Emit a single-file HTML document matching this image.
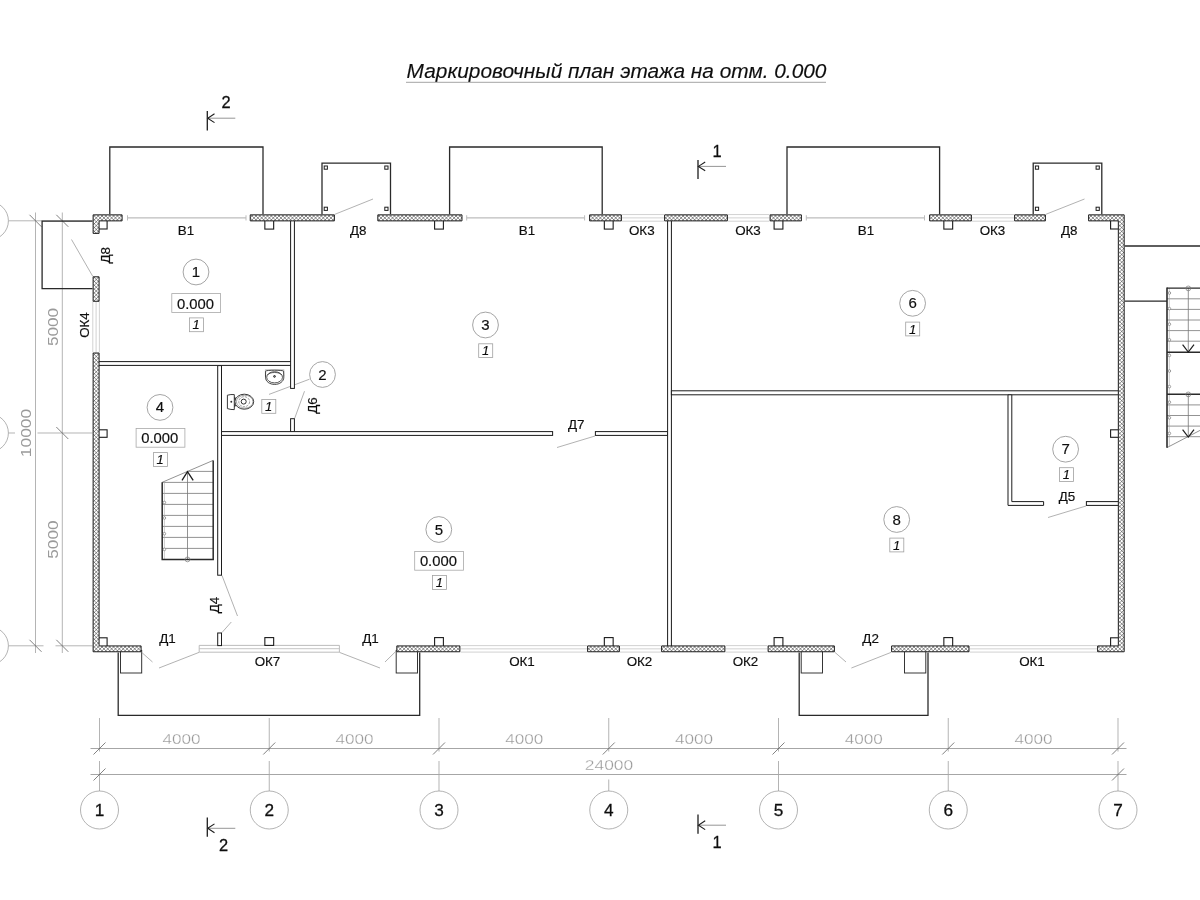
<!DOCTYPE html>
<html lang="ru">
<head>
<meta charset="utf-8">
<title>Маркировочный план этажа на отм. 0.000</title>
<style>
html,body{margin:0;padding:0;background:#fff;}
body{width:1200px;height:900px;overflow:hidden;}
svg{display:block;font-family:"Liberation Sans",sans-serif;}
</style>
</head>
<body>
<svg width="1200" height="900" viewBox="0 0 1200 900">
<defs>
<filter id="bl" x="0" y="0" width="1200" height="900" filterUnits="userSpaceOnUse"><feGaussianBlur stdDeviation="0.4"/></filter>
<filter id="bw" x="0" y="0" width="1200" height="900" filterUnits="userSpaceOnUse"><feGaussianBlur stdDeviation="0.25"/></filter>
</defs>
<rect width="1200" height="900" fill="#fff"/>
<g filter="url(#bl)">
<line x1="90.50" y1="748.50" x2="1126.50" y2="748.50" stroke="#9c9c9c" stroke-width="0.9" />
<line x1="90.50" y1="774.50" x2="1126.50" y2="774.50" stroke="#9c9c9c" stroke-width="0.9" />
<line x1="99.50" y1="718.00" x2="99.50" y2="751.50" stroke="#a6a6a6" stroke-width="0.85" />
<line x1="99.50" y1="761.00" x2="99.50" y2="791.00" stroke="#a6a6a6" stroke-width="0.85" />
<line x1="93.50" y1="754.50" x2="105.50" y2="742.50" stroke="#5a5a5a" stroke-width="0.75" />
<line x1="93.50" y1="780.50" x2="105.50" y2="768.50" stroke="#5a5a5a" stroke-width="0.75" />
<circle cx="99.50" cy="810" r="19" fill="#fff" stroke="#9a9a9a" stroke-width="0.75"/>
<text x="99.50" y="816.20" font-size="17.2" fill="#111" stroke="#111" stroke-width="0.3" text-anchor="middle"  >1</text>
<line x1="269.25" y1="718.00" x2="269.25" y2="751.50" stroke="#a6a6a6" stroke-width="0.85" />
<line x1="269.25" y1="761.00" x2="269.25" y2="791.00" stroke="#a6a6a6" stroke-width="0.85" />
<line x1="263.25" y1="754.50" x2="275.25" y2="742.50" stroke="#5a5a5a" stroke-width="0.75" />
<circle cx="269.25" cy="810" r="19" fill="#fff" stroke="#9a9a9a" stroke-width="0.75"/>
<text x="269.25" y="816.20" font-size="17.2" fill="#111" stroke="#111" stroke-width="0.3" text-anchor="middle"  >2</text>
<line x1="439.00" y1="718.00" x2="439.00" y2="751.50" stroke="#a6a6a6" stroke-width="0.85" />
<line x1="439.00" y1="761.00" x2="439.00" y2="791.00" stroke="#a6a6a6" stroke-width="0.85" />
<line x1="433.00" y1="754.50" x2="445.00" y2="742.50" stroke="#5a5a5a" stroke-width="0.75" />
<circle cx="439.00" cy="810" r="19" fill="#fff" stroke="#9a9a9a" stroke-width="0.75"/>
<text x="439.00" y="816.20" font-size="17.2" fill="#111" stroke="#111" stroke-width="0.3" text-anchor="middle"  >3</text>
<line x1="608.75" y1="718.00" x2="608.75" y2="751.50" stroke="#a6a6a6" stroke-width="0.85" />
<line x1="608.75" y1="779.50" x2="608.75" y2="791.00" stroke="#a6a6a6" stroke-width="0.85" />
<line x1="602.75" y1="754.50" x2="614.75" y2="742.50" stroke="#5a5a5a" stroke-width="0.75" />
<circle cx="608.75" cy="810" r="19" fill="#fff" stroke="#9a9a9a" stroke-width="0.75"/>
<text x="608.75" y="816.20" font-size="17.2" fill="#111" stroke="#111" stroke-width="0.3" text-anchor="middle"  >4</text>
<line x1="778.50" y1="718.00" x2="778.50" y2="751.50" stroke="#a6a6a6" stroke-width="0.85" />
<line x1="778.50" y1="761.00" x2="778.50" y2="791.00" stroke="#a6a6a6" stroke-width="0.85" />
<line x1="772.50" y1="754.50" x2="784.50" y2="742.50" stroke="#5a5a5a" stroke-width="0.75" />
<circle cx="778.50" cy="810" r="19" fill="#fff" stroke="#9a9a9a" stroke-width="0.75"/>
<text x="778.50" y="816.20" font-size="17.2" fill="#111" stroke="#111" stroke-width="0.3" text-anchor="middle"  >5</text>
<line x1="948.25" y1="718.00" x2="948.25" y2="751.50" stroke="#a6a6a6" stroke-width="0.85" />
<line x1="948.25" y1="761.00" x2="948.25" y2="791.00" stroke="#a6a6a6" stroke-width="0.85" />
<line x1="942.25" y1="754.50" x2="954.25" y2="742.50" stroke="#5a5a5a" stroke-width="0.75" />
<circle cx="948.25" cy="810" r="19" fill="#fff" stroke="#9a9a9a" stroke-width="0.75"/>
<text x="948.25" y="816.20" font-size="17.2" fill="#111" stroke="#111" stroke-width="0.3" text-anchor="middle"  >6</text>
<line x1="1118.00" y1="718.00" x2="1118.00" y2="751.50" stroke="#a6a6a6" stroke-width="0.85" />
<line x1="1118.00" y1="761.00" x2="1118.00" y2="791.00" stroke="#a6a6a6" stroke-width="0.85" />
<line x1="1112.00" y1="754.50" x2="1124.00" y2="742.50" stroke="#5a5a5a" stroke-width="0.75" />
<line x1="1112.00" y1="780.50" x2="1124.00" y2="768.50" stroke="#5a5a5a" stroke-width="0.75" />
<circle cx="1118.00" cy="810" r="19" fill="#fff" stroke="#9a9a9a" stroke-width="0.75"/>
<text x="1118.00" y="816.20" font-size="17.2" fill="#111" stroke="#111" stroke-width="0.3" text-anchor="middle"  >7</text>
<text x="181.57" y="744.30" font-size="14.6" fill="#9a9a9a" stroke="#fff" stroke-width="0.3" text-anchor="middle"  textLength="38.2" lengthAdjust="spacingAndGlyphs">4000</text>
<text x="354.52" y="744.30" font-size="14.6" fill="#9a9a9a" stroke="#fff" stroke-width="0.3" text-anchor="middle"  textLength="38.2" lengthAdjust="spacingAndGlyphs">4000</text>
<text x="524.27" y="744.30" font-size="14.6" fill="#9a9a9a" stroke="#fff" stroke-width="0.3" text-anchor="middle"  textLength="38.2" lengthAdjust="spacingAndGlyphs">4000</text>
<text x="694.02" y="744.30" font-size="14.6" fill="#9a9a9a" stroke="#fff" stroke-width="0.3" text-anchor="middle"  textLength="38.2" lengthAdjust="spacingAndGlyphs">4000</text>
<text x="863.77" y="744.30" font-size="14.6" fill="#9a9a9a" stroke="#fff" stroke-width="0.3" text-anchor="middle"  textLength="38.2" lengthAdjust="spacingAndGlyphs">4000</text>
<text x="1033.53" y="744.30" font-size="14.6" fill="#9a9a9a" stroke="#fff" stroke-width="0.3" text-anchor="middle"  textLength="38.2" lengthAdjust="spacingAndGlyphs">4000</text>
<text x="609.00" y="770.30" font-size="14.6" fill="#9a9a9a" stroke="#fff" stroke-width="0.3" text-anchor="middle"  textLength="48.5" lengthAdjust="spacingAndGlyphs">24000</text>
<line x1="35.50" y1="212.50" x2="35.50" y2="653.00" stroke="#a6a6a6" stroke-width="0.85" />
<line x1="62.30" y1="212.50" x2="62.30" y2="653.00" stroke="#a6a6a6" stroke-width="0.85" />
<line x1="8.40" y1="220.80" x2="92.50" y2="220.80" stroke="#a6a6a6" stroke-width="0.85" />
<line x1="8.40" y1="433.00" x2="15.00" y2="433.00" stroke="#a6a6a6" stroke-width="0.85" />
<line x1="37.50" y1="433.00" x2="92.50" y2="433.00" stroke="#a6a6a6" stroke-width="0.85" />
<line x1="8.40" y1="645.80" x2="43.50" y2="645.80" stroke="#a6a6a6" stroke-width="0.85" />
<line x1="55.50" y1="645.80" x2="92.50" y2="645.80" stroke="#a6a6a6" stroke-width="0.85" />
<circle cx="-10.6" cy="220.8" r="19" fill="#fff" stroke="#9a9a9a" stroke-width="0.75"/>
<circle cx="-10.6" cy="433" r="19" fill="#fff" stroke="#9a9a9a" stroke-width="0.75"/>
<circle cx="-10.6" cy="645.8" r="19" fill="#fff" stroke="#9a9a9a" stroke-width="0.75"/>
<line x1="29.50" y1="214.80" x2="41.50" y2="226.80" stroke="#5a5a5a" stroke-width="0.75" />
<line x1="56.30" y1="214.80" x2="68.30" y2="226.80" stroke="#5a5a5a" stroke-width="0.75" />
<line x1="56.30" y1="427.00" x2="68.30" y2="439.00" stroke="#5a5a5a" stroke-width="0.75" />
<line x1="29.50" y1="639.80" x2="41.50" y2="651.80" stroke="#5a5a5a" stroke-width="0.75" />
<line x1="56.30" y1="639.80" x2="68.30" y2="651.80" stroke="#5a5a5a" stroke-width="0.75" />
<text x="58.00" y="327.00" font-size="14.6" fill="#9a9a9a" text-anchor="middle"  transform="rotate(-90 58.00 327.00)" textLength="38.2" lengthAdjust="spacingAndGlyphs">5000</text>
<text x="58.00" y="539.60" font-size="14.6" fill="#9a9a9a" text-anchor="middle"  transform="rotate(-90 58.00 539.60)" textLength="38.2" lengthAdjust="spacingAndGlyphs">5000</text>
<text x="31.00" y="433.00" font-size="14.6" fill="#9a9a9a" text-anchor="middle"  transform="rotate(-90 31.00 433.00)" textLength="48.5" lengthAdjust="spacingAndGlyphs">10000</text>
<line x1="127.50" y1="217.88" x2="246.00" y2="217.88" stroke="#bdbdbd" stroke-width="1.3" />
<line x1="127.50" y1="215.28" x2="127.50" y2="220.47" stroke="#bdbdbd" stroke-width="1.0" />
<line x1="246.00" y1="215.28" x2="246.00" y2="220.47" stroke="#bdbdbd" stroke-width="1.0" />
<line x1="466.70" y1="217.88" x2="584.60" y2="217.88" stroke="#bdbdbd" stroke-width="1.3" />
<line x1="466.70" y1="215.28" x2="466.70" y2="220.47" stroke="#bdbdbd" stroke-width="1.0" />
<line x1="584.60" y1="215.28" x2="584.60" y2="220.47" stroke="#bdbdbd" stroke-width="1.0" />
<line x1="806.30" y1="217.88" x2="924.50" y2="217.88" stroke="#bdbdbd" stroke-width="1.3" />
<line x1="806.30" y1="215.28" x2="806.30" y2="220.47" stroke="#bdbdbd" stroke-width="1.0" />
<line x1="924.50" y1="215.28" x2="924.50" y2="220.47" stroke="#bdbdbd" stroke-width="1.0" />
<line x1="622.00" y1="214.55" x2="664.00" y2="214.55" stroke="#cdcdcd" stroke-width="0.9" />
<line x1="622.00" y1="217.88" x2="664.00" y2="217.88" stroke="#cdcdcd" stroke-width="0.9" />
<line x1="622.00" y1="221.20" x2="664.00" y2="221.20" stroke="#cdcdcd" stroke-width="0.9" />
<line x1="728.00" y1="214.55" x2="769.50" y2="214.55" stroke="#cdcdcd" stroke-width="0.9" />
<line x1="728.00" y1="217.88" x2="769.50" y2="217.88" stroke="#cdcdcd" stroke-width="0.9" />
<line x1="728.00" y1="221.20" x2="769.50" y2="221.20" stroke="#cdcdcd" stroke-width="0.9" />
<line x1="972.00" y1="214.55" x2="1014.00" y2="214.55" stroke="#cdcdcd" stroke-width="0.9" />
<line x1="972.00" y1="217.88" x2="1014.00" y2="217.88" stroke="#cdcdcd" stroke-width="0.9" />
<line x1="972.00" y1="221.20" x2="1014.00" y2="221.20" stroke="#cdcdcd" stroke-width="0.9" />
<line x1="460.50" y1="645.60" x2="587.00" y2="645.60" stroke="#cdcdcd" stroke-width="0.9" />
<line x1="460.50" y1="648.85" x2="587.00" y2="648.85" stroke="#cdcdcd" stroke-width="0.9" />
<line x1="460.50" y1="652.10" x2="587.00" y2="652.10" stroke="#cdcdcd" stroke-width="0.9" />
<line x1="620.00" y1="645.60" x2="661.00" y2="645.60" stroke="#cdcdcd" stroke-width="0.9" />
<line x1="620.00" y1="648.85" x2="661.00" y2="648.85" stroke="#cdcdcd" stroke-width="0.9" />
<line x1="620.00" y1="652.10" x2="661.00" y2="652.10" stroke="#cdcdcd" stroke-width="0.9" />
<line x1="725.50" y1="645.60" x2="767.50" y2="645.60" stroke="#cdcdcd" stroke-width="0.9" />
<line x1="725.50" y1="648.85" x2="767.50" y2="648.85" stroke="#cdcdcd" stroke-width="0.9" />
<line x1="725.50" y1="652.10" x2="767.50" y2="652.10" stroke="#cdcdcd" stroke-width="0.9" />
<line x1="969.60" y1="645.60" x2="1097.00" y2="645.60" stroke="#cdcdcd" stroke-width="0.9" />
<line x1="969.60" y1="648.85" x2="1097.00" y2="648.85" stroke="#cdcdcd" stroke-width="0.9" />
<line x1="969.60" y1="652.10" x2="1097.00" y2="652.10" stroke="#cdcdcd" stroke-width="0.9" />
<line x1="92.80" y1="301.50" x2="92.80" y2="352.50" stroke="#cdcdcd" stroke-width="0.9" />
<line x1="96.10" y1="301.50" x2="96.10" y2="352.50" stroke="#cdcdcd" stroke-width="0.9" />
<line x1="99.40" y1="301.50" x2="99.40" y2="352.50" stroke="#cdcdcd" stroke-width="0.9" />
<path d="M199.20,652.20 L199.20,645.40 L339.40,645.40 L339.40,652.20 L199.20,652.20" fill="none" stroke="#b4b4b4" stroke-width="0.9" stroke-linejoin="miter"/>
<line x1="199.20" y1="648.70" x2="339.40" y2="648.70" stroke="#c0c0c0" stroke-width="0.9" />
<path d="M109.80,214.25 L109.80,147.00 L263.00,147.00 L263.00,214.25" fill="none" stroke="#2a2a2a" stroke-width="1.3" stroke-linejoin="miter"/>
<path d="M449.60,214.25 L449.60,147.00 L602.20,147.00 L602.20,214.25" fill="none" stroke="#2a2a2a" stroke-width="1.3" stroke-linejoin="miter"/>
<path d="M787.00,214.25 L787.00,147.00 L939.60,147.00 L939.60,214.25" fill="none" stroke="#2a2a2a" stroke-width="1.3" stroke-linejoin="miter"/>
<path d="M322.00,214.25 L322.00,163.20 L390.50,163.20 L390.50,214.25" fill="none" stroke="#2a2a2a" stroke-width="1.3" stroke-linejoin="miter"/>
<rect x="324.20" y="166.00" width="3.20" height="3.20" fill="none" stroke="#1c1c1c" stroke-width="1.0"/>
<rect x="324.20" y="207.20" width="3.20" height="3.20" fill="none" stroke="#1c1c1c" stroke-width="1.0"/>
<rect x="384.80" y="166.00" width="3.20" height="3.20" fill="none" stroke="#1c1c1c" stroke-width="1.0"/>
<rect x="384.80" y="207.20" width="3.20" height="3.20" fill="none" stroke="#1c1c1c" stroke-width="1.0"/>
<path d="M1033.20,214.25 L1033.20,163.20 L1101.80,163.20 L1101.80,214.25" fill="none" stroke="#2a2a2a" stroke-width="1.3" stroke-linejoin="miter"/>
<rect x="1035.40" y="166.00" width="3.20" height="3.20" fill="none" stroke="#1c1c1c" stroke-width="1.0"/>
<rect x="1035.40" y="207.20" width="3.20" height="3.20" fill="none" stroke="#1c1c1c" stroke-width="1.0"/>
<rect x="1096.10" y="166.00" width="3.20" height="3.20" fill="none" stroke="#1c1c1c" stroke-width="1.0"/>
<rect x="1096.10" y="207.20" width="3.20" height="3.20" fill="none" stroke="#1c1c1c" stroke-width="1.0"/>
<path d="M118.20,652.40 L118.20,715.30 L419.70,715.30 L419.70,652.40" fill="none" stroke="#2a2a2a" stroke-width="1.3" stroke-linejoin="miter"/>
<rect x="120.50" y="650.40" width="21.20" height="22.60" fill="none" stroke="#2a2a2a" stroke-width="0.95"/>
<rect x="396.20" y="650.40" width="21.30" height="22.60" fill="none" stroke="#2a2a2a" stroke-width="0.95"/>
<path d="M799.20,652.40 L799.20,715.30 L928.00,715.30 L928.00,652.40" fill="none" stroke="#2a2a2a" stroke-width="1.3" stroke-linejoin="miter"/>
<rect x="801.20" y="650.40" width="21.30" height="22.60" fill="none" stroke="#2a2a2a" stroke-width="0.95"/>
<rect x="904.50" y="650.40" width="21.30" height="22.60" fill="none" stroke="#2a2a2a" stroke-width="0.95"/>
<path d="M92.50,221.10 L42.10,221.10 L42.10,288.60 L92.50,288.60" fill="none" stroke="#2a2a2a" stroke-width="1.3" stroke-linejoin="miter"/>
<line x1="1124.80" y1="246.00" x2="1200.00" y2="246.00" stroke="#2a2a2a" stroke-width="1.3" />
<line x1="1124.80" y1="301.20" x2="1167.00" y2="301.20" stroke="#2a2a2a" stroke-width="1.3" />
<line x1="335.00" y1="214.25" x2="373.00" y2="199.00" stroke="#9e9e9e" stroke-width="0.8" />
<line x1="1046.00" y1="214.25" x2="1084.50" y2="199.00" stroke="#9e9e9e" stroke-width="0.8" />
<line x1="92.80" y1="276.40" x2="71.50" y2="239.50" stroke="#9e9e9e" stroke-width="0.8" />
<line x1="294.70" y1="418.30" x2="304.50" y2="391.20" stroke="#9e9e9e" stroke-width="0.8" />
<line x1="222.00" y1="575.50" x2="237.50" y2="616.00" stroke="#9e9e9e" stroke-width="0.8" />
<line x1="222.00" y1="632.50" x2="231.30" y2="622.00" stroke="#9e9e9e" stroke-width="0.8" />
<line x1="141.70" y1="652.40" x2="152.50" y2="662.00" stroke="#9e9e9e" stroke-width="0.8" />
<line x1="199.00" y1="652.40" x2="159.00" y2="668.00" stroke="#9e9e9e" stroke-width="0.8" />
<line x1="339.50" y1="652.40" x2="380.00" y2="668.00" stroke="#9e9e9e" stroke-width="0.8" />
<line x1="396.20" y1="651.00" x2="385.00" y2="662.00" stroke="#9e9e9e" stroke-width="0.8" />
<line x1="835.00" y1="652.40" x2="846.00" y2="662.00" stroke="#9e9e9e" stroke-width="0.8" />
<line x1="891.00" y1="652.40" x2="851.40" y2="668.00" stroke="#9e9e9e" stroke-width="0.8" />
<line x1="595.00" y1="436.00" x2="557.00" y2="447.50" stroke="#9e9e9e" stroke-width="0.8" />
<line x1="1086.00" y1="506.00" x2="1048.00" y2="517.50" stroke="#9e9e9e" stroke-width="0.8" />
<line x1="309.50" y1="379.20" x2="269.00" y2="394.40" stroke="#9e9e9e" stroke-width="0.8" />
<rect x="97.70" y="219.50" width="9.40" height="9.50" fill="#fff" stroke="#1c1c1c" stroke-width="1.1"/>
<rect x="97.70" y="637.80" width="9.40" height="9.50" fill="#fff" stroke="#1c1c1c" stroke-width="1.1"/>
<rect x="97.70" y="429.80" width="9.40" height="7.50" fill="#fff" stroke="#1c1c1c" stroke-width="1.1"/>
<rect x="264.85" y="219.50" width="8.80" height="9.60" fill="#fff" stroke="#1c1c1c" stroke-width="1.1"/>
<rect x="264.85" y="637.60" width="8.80" height="7.80" fill="#fff" stroke="#1c1c1c" stroke-width="1.1"/>
<rect x="434.60" y="219.50" width="8.80" height="9.60" fill="#fff" stroke="#1c1c1c" stroke-width="1.1"/>
<rect x="434.60" y="637.60" width="8.80" height="9.70" fill="#fff" stroke="#1c1c1c" stroke-width="1.1"/>
<rect x="604.35" y="219.50" width="8.80" height="9.60" fill="#fff" stroke="#1c1c1c" stroke-width="1.1"/>
<rect x="604.35" y="637.60" width="8.80" height="9.70" fill="#fff" stroke="#1c1c1c" stroke-width="1.1"/>
<rect x="774.10" y="219.50" width="8.80" height="9.60" fill="#fff" stroke="#1c1c1c" stroke-width="1.1"/>
<rect x="774.10" y="637.60" width="8.80" height="9.70" fill="#fff" stroke="#1c1c1c" stroke-width="1.1"/>
<rect x="943.85" y="219.50" width="8.80" height="9.60" fill="#fff" stroke="#1c1c1c" stroke-width="1.1"/>
<rect x="943.85" y="637.60" width="8.80" height="9.70" fill="#fff" stroke="#1c1c1c" stroke-width="1.1"/>
<rect x="1110.60" y="219.50" width="9.10" height="9.50" fill="#fff" stroke="#1c1c1c" stroke-width="1.1"/>
<rect x="1110.60" y="637.80" width="9.10" height="9.50" fill="#fff" stroke="#1c1c1c" stroke-width="1.1"/>
<rect x="1110.60" y="429.80" width="9.10" height="7.50" fill="#fff" stroke="#1c1c1c" stroke-width="1.1"/>
<rect x="98.10" y="361.60" width="194.00" height="3.80" fill="#fff" stroke="#1c1c1c" stroke-width="1.0"/>
<rect x="290.60" y="219.90" width="3.80" height="168.50" fill="#fff" stroke="#1c1c1c" stroke-width="1.0"/>
<rect x="290.60" y="418.70" width="3.80" height="13.40" fill="#fff" stroke="#1c1c1c" stroke-width="1.0"/>
<rect x="217.70" y="365.60" width="3.80" height="209.60" fill="#fff" stroke="#1c1c1c" stroke-width="1.0"/>
<rect x="217.70" y="633.00" width="3.80" height="12.60" fill="#fff" stroke="#1c1c1c" stroke-width="1.0"/>
<rect x="221.50" y="431.60" width="331.10" height="3.80" fill="#fff" stroke="#1c1c1c" stroke-width="1.0"/>
<rect x="595.40" y="431.60" width="72.20" height="3.80" fill="#fff" stroke="#1c1c1c" stroke-width="1.0"/>
<rect x="667.60" y="219.90" width="3.80" height="427.00" fill="#fff" stroke="#1c1c1c" stroke-width="1.0"/>
<rect x="671.40" y="390.80" width="447.90" height="4.00" fill="#fff" stroke="#1c1c1c" stroke-width="1.0"/>
<path d="M1008.00,394.80 L1011.80,394.80 L1011.80,501.60 L1043.60,501.60 L1043.60,505.40 L1008.00,505.40 Z" fill="#fff" stroke="#1c1c1c" stroke-width="1.0" stroke-linejoin="miter"/>
<rect x="1086.40" y="501.60" width="32.90" height="3.80" fill="#fff" stroke="#1c1c1c" stroke-width="1.0"/>
<line x1="187.50" y1="471.40" x2="213.20" y2="471.40" stroke="#777" stroke-width="0.8" />
<line x1="162.20" y1="482.40" x2="213.20" y2="482.40" stroke="#777" stroke-width="0.8" />
<line x1="162.20" y1="493.40" x2="213.20" y2="493.40" stroke="#777" stroke-width="0.8" />
<line x1="162.20" y1="504.40" x2="213.20" y2="504.40" stroke="#777" stroke-width="0.8" />
<line x1="162.20" y1="515.40" x2="213.20" y2="515.40" stroke="#777" stroke-width="0.8" />
<line x1="162.20" y1="526.40" x2="213.20" y2="526.40" stroke="#777" stroke-width="0.8" />
<line x1="162.20" y1="537.40" x2="213.20" y2="537.40" stroke="#777" stroke-width="0.8" />
<line x1="162.20" y1="548.40" x2="213.20" y2="548.40" stroke="#777" stroke-width="0.8" />
<line x1="162.20" y1="482.30" x2="213.20" y2="460.40" stroke="#777" stroke-width="0.8" />
<line x1="187.50" y1="471.40" x2="187.50" y2="559.40" stroke="#777" stroke-width="0.8" />
<line x1="164.40" y1="482.30" x2="164.40" y2="559.40" stroke="#aaa" stroke-width="0.6" />
<path d="M162.20,482.30 L162.20,559.40 L213.20,559.40 L213.20,460.40" fill="none" stroke="#2a2a2a" stroke-width="1.5" stroke-linejoin="miter"/>
<path d="M182.00,480.30 L187.50,471.60 L193.20,480.30" fill="none" stroke="#1c1c1c" stroke-width="1.3" stroke-linejoin="miter"/>
<circle cx="187.5" cy="559.4" r="2.4" fill="none" stroke="#777" stroke-width="0.7"/>
<circle cx="164.4" cy="502.5" r="1.3" fill="#fff" stroke="#777" stroke-width="0.7"/>
<circle cx="164.4" cy="518" r="1.3" fill="#fff" stroke="#777" stroke-width="0.7"/>
<circle cx="164.4" cy="533.7" r="1.3" fill="#fff" stroke="#777" stroke-width="0.7"/>
<circle cx="164.4" cy="549.4" r="1.3" fill="#fff" stroke="#777" stroke-width="0.7"/>
<line x1="1167.00" y1="298.80" x2="1200.00" y2="298.80" stroke="#777" stroke-width="0.8" />
<line x1="1167.00" y1="309.40" x2="1200.00" y2="309.40" stroke="#777" stroke-width="0.8" />
<line x1="1167.00" y1="320.00" x2="1200.00" y2="320.00" stroke="#777" stroke-width="0.8" />
<line x1="1167.00" y1="330.60" x2="1200.00" y2="330.60" stroke="#777" stroke-width="0.8" />
<line x1="1167.00" y1="341.20" x2="1200.00" y2="341.20" stroke="#777" stroke-width="0.8" />
<line x1="1167.00" y1="404.90" x2="1200.00" y2="404.90" stroke="#777" stroke-width="0.8" />
<line x1="1167.00" y1="415.50" x2="1200.00" y2="415.50" stroke="#777" stroke-width="0.8" />
<line x1="1167.00" y1="426.10" x2="1200.00" y2="426.10" stroke="#777" stroke-width="0.8" />
<line x1="1167.00" y1="436.70" x2="1200.00" y2="436.70" stroke="#777" stroke-width="0.8" />
<line x1="1169.30" y1="288.20" x2="1169.30" y2="446.00" stroke="#aaa" stroke-width="0.6" />
<line x1="1188.30" y1="288.20" x2="1188.30" y2="351.50" stroke="#777" stroke-width="0.8" />
<line x1="1188.30" y1="394.30" x2="1188.30" y2="436.50" stroke="#777" stroke-width="0.8" />
<line x1="1167.00" y1="447.60" x2="1200.00" y2="430.40" stroke="#777" stroke-width="0.8" />
<line x1="1167.00" y1="288.20" x2="1200.00" y2="288.20" stroke="#2a2a2a" stroke-width="1.3" />
<line x1="1167.00" y1="352.20" x2="1200.00" y2="352.20" stroke="#2a2a2a" stroke-width="1.5" />
<line x1="1167.00" y1="394.30" x2="1200.00" y2="394.30" stroke="#2a2a2a" stroke-width="1.5" />
<line x1="1167.00" y1="287.60" x2="1167.00" y2="447.80" stroke="#2a2a2a" stroke-width="1.6" />
<path d="M1182.60,344.60 L1188.30,352.00 L1194.00,344.60" fill="none" stroke="#1c1c1c" stroke-width="1.2" stroke-linejoin="miter"/>
<path d="M1182.60,429.60 L1188.30,437.00 L1194.00,429.60" fill="none" stroke="#1c1c1c" stroke-width="1.2" stroke-linejoin="miter"/>
<circle cx="1188.3" cy="288.4" r="2.4" fill="none" stroke="#777" stroke-width="0.7"/>
<circle cx="1188.3" cy="394.4" r="2.4" fill="none" stroke="#777" stroke-width="0.7"/>
<circle cx="1169.4" cy="293.0" r="1.3" fill="#fff" stroke="#777" stroke-width="0.7"/>
<circle cx="1169.4" cy="308.6" r="1.3" fill="#fff" stroke="#777" stroke-width="0.7"/>
<circle cx="1169.4" cy="324.2" r="1.3" fill="#fff" stroke="#777" stroke-width="0.7"/>
<circle cx="1169.4" cy="339.8" r="1.3" fill="#fff" stroke="#777" stroke-width="0.7"/>
<circle cx="1169.4" cy="355.4" r="1.3" fill="#fff" stroke="#777" stroke-width="0.7"/>
<circle cx="1169.4" cy="371.0" r="1.3" fill="#fff" stroke="#777" stroke-width="0.7"/>
<circle cx="1169.4" cy="386.6" r="1.3" fill="#fff" stroke="#777" stroke-width="0.7"/>
<circle cx="1169.4" cy="402.2" r="1.3" fill="#fff" stroke="#777" stroke-width="0.7"/>
<circle cx="1169.4" cy="417.8" r="1.3" fill="#fff" stroke="#777" stroke-width="0.7"/>
<circle cx="1169.4" cy="433.4" r="1.3" fill="#fff" stroke="#777" stroke-width="0.7"/>
<rect x="265.3" y="369.8" width="18.6" height="6" fill="none" stroke="#b5b5b5" stroke-width="0.8"/>
<path d="M265.6,371.2 C265.6,369.9 283.6,369.9 283.6,371.2 L283.8,377.2 C283.8,381.6 279.6,384.4 274.7,384.4 C269.8,384.4 265.5,381.6 265.5,377.2 Z" fill="#fff" stroke="#2e2e2e" stroke-width="0.9"/>
<ellipse cx="274.6" cy="377.3" rx="7.9" ry="5.6" fill="none" stroke="#2e2e2e" stroke-width="0.8"/>
<path d="M267.4,375.2 C269,371.6 280.2,371.6 281.8,375.2" fill="none" stroke="#2e2e2e" stroke-width="0.7"/>
<circle cx="274.5" cy="376.4" r="0.9" fill="#999" stroke="#2e2e2e" stroke-width="1.0"/>
<ellipse cx="244.3" cy="401.7" rx="9.4" ry="7.5" fill="#fff" stroke="#2e2e2e" stroke-width="0.95"/>
<ellipse cx="244.7" cy="401.7" rx="8.3" ry="6.5" fill="none" stroke="#666" stroke-width="0.6"/>
<ellipse cx="244.2" cy="401.7" rx="5.4" ry="5.0" fill="none" stroke="#555" stroke-width="0.6" stroke-dasharray="2.4 1.1"/>
<circle cx="243.7" cy="401.6" r="2.5" fill="#fff" stroke="#2e2e2e" stroke-width="1.0"/>
<path d="M227.4,395.2 Q231,394.2 234.3,394.6 L234.3,409.6 Q231,409.8 227.4,408.6 Z" fill="#fff" stroke="#2e2e2e" stroke-width="0.95"/>
<circle cx="231.3" cy="401.7" r="0.95" fill="#2e2e2e"/>
<path d="M234.5,397.2 L236,398.3 L234.5,399.4 Z M234.5,404.2 L236,405.5 L234.5,406.8 Z" fill="#2e2e2e" stroke="#2e2e2e" stroke-width="0.5"/>
<circle cx="196" cy="272" r="12.9" fill="#fff" stroke="#8e8e8e" stroke-width="0.8"/>
<text x="196.00" y="277.00" font-size="15.0" fill="#111" stroke="#111" stroke-width="0.18" text-anchor="middle"  >1</text>
<rect x="171.80" y="293.60" width="48.80" height="18.80" fill="#fff" stroke="#a8a8a8" stroke-width="0.8"/>
<text x="195.50" y="308.50" font-size="14.8" fill="#111" stroke="#111" stroke-width="0.18" text-anchor="middle"  >0.000</text>
<rect x="189.40" y="317.90" width="14.00" height="13.80" fill="#fff" stroke="#a0a0a0" stroke-width="0.8"/>
<text x="196.20" y="329.40" font-size="13.0" fill="#111" stroke="#111" stroke-width="0.18" text-anchor="middle" font-style="italic" >1</text>
<circle cx="322.5" cy="374.5" r="12.9" fill="#fff" stroke="#8e8e8e" stroke-width="0.8"/>
<text x="322.50" y="379.50" font-size="15.0" fill="#111" stroke="#111" stroke-width="0.18" text-anchor="middle"  >2</text>
<rect x="261.80" y="399.50" width="14.00" height="13.80" fill="#fff" stroke="#a0a0a0" stroke-width="0.8"/>
<text x="268.60" y="411.00" font-size="13.0" fill="#111" stroke="#111" stroke-width="0.18" text-anchor="middle" font-style="italic" >1</text>
<circle cx="485.5" cy="325" r="12.9" fill="#fff" stroke="#8e8e8e" stroke-width="0.8"/>
<text x="485.50" y="330.00" font-size="15.0" fill="#111" stroke="#111" stroke-width="0.18" text-anchor="middle"  >3</text>
<rect x="478.70" y="343.80" width="14.00" height="13.80" fill="#fff" stroke="#a0a0a0" stroke-width="0.8"/>
<text x="485.50" y="355.30" font-size="13.0" fill="#111" stroke="#111" stroke-width="0.18" text-anchor="middle" font-style="italic" >1</text>
<circle cx="160" cy="407.4" r="12.9" fill="#fff" stroke="#8e8e8e" stroke-width="0.8"/>
<text x="160.00" y="412.40" font-size="15.0" fill="#111" stroke="#111" stroke-width="0.18" text-anchor="middle"  >4</text>
<rect x="136.10" y="428.40" width="48.80" height="18.80" fill="#fff" stroke="#a8a8a8" stroke-width="0.8"/>
<text x="159.80" y="443.30" font-size="14.8" fill="#111" stroke="#111" stroke-width="0.18" text-anchor="middle"  >0.000</text>
<rect x="153.40" y="452.60" width="14.00" height="13.80" fill="#fff" stroke="#a0a0a0" stroke-width="0.8"/>
<text x="160.20" y="464.10" font-size="13.0" fill="#111" stroke="#111" stroke-width="0.18" text-anchor="middle" font-style="italic" >1</text>
<circle cx="438.8" cy="529.5" r="12.9" fill="#fff" stroke="#8e8e8e" stroke-width="0.8"/>
<text x="438.80" y="534.50" font-size="15.0" fill="#111" stroke="#111" stroke-width="0.18" text-anchor="middle"  >5</text>
<rect x="414.70" y="551.40" width="48.80" height="18.80" fill="#fff" stroke="#a8a8a8" stroke-width="0.8"/>
<text x="438.40" y="566.30" font-size="14.8" fill="#111" stroke="#111" stroke-width="0.18" text-anchor="middle"  >0.000</text>
<rect x="432.50" y="575.60" width="14.00" height="13.80" fill="#fff" stroke="#a0a0a0" stroke-width="0.8"/>
<text x="439.30" y="587.10" font-size="13.0" fill="#111" stroke="#111" stroke-width="0.18" text-anchor="middle" font-style="italic" >1</text>
<circle cx="912.6" cy="303.3" r="12.9" fill="#fff" stroke="#8e8e8e" stroke-width="0.8"/>
<text x="912.60" y="308.30" font-size="15.0" fill="#111" stroke="#111" stroke-width="0.18" text-anchor="middle"  >6</text>
<rect x="905.70" y="322.10" width="14.00" height="13.80" fill="#fff" stroke="#a0a0a0" stroke-width="0.8"/>
<text x="912.50" y="333.60" font-size="13.0" fill="#111" stroke="#111" stroke-width="0.18" text-anchor="middle" font-style="italic" >1</text>
<circle cx="1065.6" cy="449.2" r="12.9" fill="#fff" stroke="#8e8e8e" stroke-width="0.8"/>
<text x="1065.60" y="454.20" font-size="15.0" fill="#111" stroke="#111" stroke-width="0.18" text-anchor="middle"  >7</text>
<rect x="1059.50" y="467.70" width="14.00" height="13.80" fill="#fff" stroke="#a0a0a0" stroke-width="0.8"/>
<text x="1066.30" y="479.20" font-size="13.0" fill="#111" stroke="#111" stroke-width="0.18" text-anchor="middle" font-style="italic" >1</text>
<circle cx="896.7" cy="519.5" r="12.9" fill="#fff" stroke="#8e8e8e" stroke-width="0.8"/>
<text x="896.70" y="524.50" font-size="15.0" fill="#111" stroke="#111" stroke-width="0.18" text-anchor="middle"  >8</text>
<rect x="889.80" y="538.10" width="14.00" height="13.80" fill="#fff" stroke="#a0a0a0" stroke-width="0.8"/>
<text x="896.60" y="549.60" font-size="13.0" fill="#111" stroke="#111" stroke-width="0.18" text-anchor="middle" font-style="italic" >1</text>
<text x="186.00" y="235.30" font-size="13.4" fill="#111" stroke="#111" stroke-width="0.18" text-anchor="middle"  >В1</text>
<text x="358.30" y="235.30" font-size="13.4" fill="#111" stroke="#111" stroke-width="0.18" text-anchor="middle"  >Д8</text>
<text x="527.00" y="235.30" font-size="13.4" fill="#111" stroke="#111" stroke-width="0.18" text-anchor="middle"  >В1</text>
<text x="641.80" y="235.30" font-size="13.4" fill="#111" stroke="#111" stroke-width="0.18" text-anchor="middle"  >ОК3</text>
<text x="748.00" y="235.30" font-size="13.4" fill="#111" stroke="#111" stroke-width="0.18" text-anchor="middle"  >ОК3</text>
<text x="866.00" y="235.30" font-size="13.4" fill="#111" stroke="#111" stroke-width="0.18" text-anchor="middle"  >В1</text>
<text x="992.50" y="235.30" font-size="13.4" fill="#111" stroke="#111" stroke-width="0.18" text-anchor="middle"  >ОК3</text>
<text x="1069.20" y="235.30" font-size="13.4" fill="#111" stroke="#111" stroke-width="0.18" text-anchor="middle"  >Д8</text>
<text x="267.50" y="666.00" font-size="13.4" fill="#111" stroke="#111" stroke-width="0.18" text-anchor="middle"  >ОК7</text>
<text x="522.00" y="666.00" font-size="13.4" fill="#111" stroke="#111" stroke-width="0.18" text-anchor="middle"  >ОК1</text>
<text x="639.50" y="666.00" font-size="13.4" fill="#111" stroke="#111" stroke-width="0.18" text-anchor="middle"  >ОК2</text>
<text x="745.50" y="666.00" font-size="13.4" fill="#111" stroke="#111" stroke-width="0.18" text-anchor="middle"  >ОК2</text>
<text x="1032.00" y="666.00" font-size="13.4" fill="#111" stroke="#111" stroke-width="0.18" text-anchor="middle"  >ОК1</text>
<text x="167.50" y="643.40" font-size="13.4" fill="#111" stroke="#111" stroke-width="0.18" text-anchor="middle"  >Д1</text>
<text x="370.50" y="643.40" font-size="13.4" fill="#111" stroke="#111" stroke-width="0.18" text-anchor="middle"  >Д1</text>
<text x="870.60" y="643.40" font-size="13.4" fill="#111" stroke="#111" stroke-width="0.18" text-anchor="middle"  >Д2</text>
<text x="576.20" y="428.60" font-size="13.4" fill="#111" stroke="#111" stroke-width="0.18" text-anchor="middle"  >Д7</text>
<text x="1067.00" y="500.70" font-size="13.4" fill="#111" stroke="#111" stroke-width="0.18" text-anchor="middle"  >Д5</text>
<text x="109.80" y="255.30" font-size="13.4" fill="#111" stroke="#111" stroke-width="0.18" text-anchor="middle"  transform="rotate(-90 109.80 255.30)" >Д8</text>
<text x="88.60" y="325.00" font-size="13.4" fill="#111" stroke="#111" stroke-width="0.18" text-anchor="middle"  transform="rotate(-90 88.60 325.00)" >ОК4</text>
<text x="316.60" y="405.60" font-size="13.4" fill="#111" stroke="#111" stroke-width="0.18" text-anchor="middle"  transform="rotate(-90 316.60 405.60)" >Д6</text>
<text x="218.90" y="605.00" font-size="13.4" fill="#111" stroke="#111" stroke-width="0.18" text-anchor="middle"  transform="rotate(-90 218.90 605.00)" >Д4</text>
<line x1="207.30" y1="111.00" x2="207.30" y2="130.40" stroke="#1c1c1c" stroke-width="1.3" />
<line x1="207.30" y1="118.20" x2="235.30" y2="118.20" stroke="#8a8a8a" stroke-width="0.9" />
<path d="M214.50,113.80 L207.70,118.20 L214.50,122.60" fill="none" stroke="#1c1c1c" stroke-width="1.1" stroke-linejoin="miter"/>
<text x="226.00" y="108.00" font-size="16.4" fill="#111" stroke="#111" stroke-width="0.3" text-anchor="middle"  >2</text>
<line x1="698.00" y1="160.00" x2="698.00" y2="179.00" stroke="#1c1c1c" stroke-width="1.3" />
<line x1="698.00" y1="166.40" x2="726.00" y2="166.40" stroke="#8a8a8a" stroke-width="0.9" />
<path d="M705.20,162.00 L698.40,166.40 L705.20,170.80" fill="none" stroke="#1c1c1c" stroke-width="1.1" stroke-linejoin="miter"/>
<text x="717.00" y="157.00" font-size="16.4" fill="#111" stroke="#111" stroke-width="0.3" text-anchor="middle"  >1</text>
<line x1="207.30" y1="817.50" x2="207.30" y2="836.80" stroke="#1c1c1c" stroke-width="1.3" />
<line x1="207.30" y1="828.30" x2="235.30" y2="828.30" stroke="#8a8a8a" stroke-width="0.9" />
<path d="M214.50,823.90 L207.70,828.30 L214.50,832.70" fill="none" stroke="#1c1c1c" stroke-width="1.1" stroke-linejoin="miter"/>
<text x="223.60" y="850.60" font-size="16.4" fill="#111" stroke="#111" stroke-width="0.3" text-anchor="middle"  >2</text>
<line x1="698.00" y1="814.50" x2="698.00" y2="833.80" stroke="#1c1c1c" stroke-width="1.3" />
<line x1="698.00" y1="825.20" x2="726.00" y2="825.20" stroke="#8a8a8a" stroke-width="0.9" />
<path d="M705.20,820.80 L698.40,825.20 L705.20,829.60" fill="none" stroke="#1c1c1c" stroke-width="1.1" stroke-linejoin="miter"/>
<text x="717.00" y="848.00" font-size="16.4" fill="#111" stroke="#111" stroke-width="0.3" text-anchor="middle"  >1</text>
<text x="406.6" y="77.7" font-size="20.85" font-style="italic" fill="#111" stroke="#111" stroke-width="0.15">Маркировочный план этажа на отм. 0.000</text>
<line x1="406.00" y1="82.30" x2="826.00" y2="82.30" stroke="#9a9a9a" stroke-width="0.9" />
</g>
<g filter="url(#bw)">
<clipPath id="wc"><path d="M93.12,214.87 L122.08,214.87 L122.08,220.88 L99.08,220.88 L99.08,233.38 L93.12,233.38 Z M250.22,214.87 L334.38,214.87 L334.38,220.88 L250.22,220.88 Z M377.82,214.87 L461.98,214.87 L461.98,220.88 L377.82,220.88 Z M589.62,214.87 L621.38,214.87 L621.38,220.88 L589.62,220.88 Z M664.62,214.87 L727.38,214.87 L727.38,220.88 L664.62,220.88 Z M770.12,214.87 L801.38,214.87 L801.38,220.88 L770.12,220.88 Z M929.62,214.87 L971.38,214.87 L971.38,220.88 L929.62,220.88 Z M1014.62,214.87 L1045.38,214.87 L1045.38,220.88 L1014.62,220.88 Z M1088.62,214.87 L1124.18,214.87 L1124.18,651.78 L1097.62,651.78 L1097.62,645.92 L1118.32,645.92 L1118.32,220.88 L1088.62,220.88 Z M93.12,276.82 L99.08,276.82 L99.08,301.28 L93.12,301.28 Z M93.12,353.02 L99.08,353.02 L99.08,645.92 L141.08,645.92 L141.08,651.78 L93.12,651.78 Z M396.82,645.92 L459.88,645.92 L459.88,651.78 L396.82,651.78 Z M587.62,645.92 L619.38,645.92 L619.38,651.78 L587.62,651.78 Z M661.62,645.92 L724.88,645.92 L724.88,651.78 L661.62,651.78 Z M768.12,645.92 L834.38,645.92 L834.38,651.78 L768.12,651.78 Z M891.62,645.92 L968.98,645.92 L968.98,651.78 L891.62,651.78 Z"/></clipPath>
<path d="M93.12,214.87 L122.08,214.87 L122.08,220.88 L99.08,220.88 L99.08,233.38 L93.12,233.38 Z M250.22,214.87 L334.38,214.87 L334.38,220.88 L250.22,220.88 Z M377.82,214.87 L461.98,214.87 L461.98,220.88 L377.82,220.88 Z M589.62,214.87 L621.38,214.87 L621.38,220.88 L589.62,220.88 Z M664.62,214.87 L727.38,214.87 L727.38,220.88 L664.62,220.88 Z M770.12,214.87 L801.38,214.87 L801.38,220.88 L770.12,220.88 Z M929.62,214.87 L971.38,214.87 L971.38,220.88 L929.62,220.88 Z M1014.62,214.87 L1045.38,214.87 L1045.38,220.88 L1014.62,220.88 Z M1088.62,214.87 L1124.18,214.87 L1124.18,651.78 L1097.62,651.78 L1097.62,645.92 L1118.32,645.92 L1118.32,220.88 L1088.62,220.88 Z M93.12,276.82 L99.08,276.82 L99.08,301.28 L93.12,301.28 Z M93.12,353.02 L99.08,353.02 L99.08,645.92 L141.08,645.92 L141.08,651.78 L93.12,651.78 Z M396.82,645.92 L459.88,645.92 L459.88,651.78 L396.82,651.78 Z M587.62,645.92 L619.38,645.92 L619.38,651.78 L587.62,651.78 Z M661.62,645.92 L724.88,645.92 L724.88,651.78 L661.62,651.78 Z M768.12,645.92 L834.38,645.92 L834.38,651.78 L768.12,651.78 Z M891.62,645.92 L968.98,645.92 L968.98,651.78 L891.62,651.78 Z" fill="#fff" stroke="none"/>
<path d="M-902.79,0 l900,900 M-901.39,900 l900,-900 M-898.95,0 l900,900 M-897.54,900 l900,-900 M-895.10,0 l900,900 M-893.69,900 l900,-900 M-891.25,0 l900,900 M-889.84,900 l900,-900 M-887.40,0 l900,900 M-885.99,900 l900,-900 M-883.55,0 l900,900 M-882.15,900 l900,-900 M-879.71,0 l900,900 M-878.30,900 l900,-900 M-875.86,0 l900,900 M-874.45,900 l900,-900 M-872.01,0 l900,900 M-870.60,900 l900,-900 M-868.16,0 l900,900 M-866.75,900 l900,-900 M-864.31,0 l900,900 M-862.91,900 l900,-900 M-860.47,0 l900,900 M-859.06,900 l900,-900 M-856.62,0 l900,900 M-855.21,900 l900,-900 M-852.77,0 l900,900 M-851.36,900 l900,-900 M-848.92,0 l900,900 M-847.51,900 l900,-900 M-845.07,0 l900,900 M-843.67,900 l900,-900 M-841.23,0 l900,900 M-839.82,900 l900,-900 M-837.38,0 l900,900 M-835.97,900 l900,-900 M-833.53,0 l900,900 M-832.12,900 l900,-900 M-829.68,0 l900,900 M-828.27,900 l900,-900 M-825.83,0 l900,900 M-824.43,900 l900,-900 M-821.99,0 l900,900 M-820.58,900 l900,-900 M-818.14,0 l900,900 M-816.73,900 l900,-900 M-814.29,0 l900,900 M-812.88,900 l900,-900 M-810.44,0 l900,900 M-809.03,900 l900,-900 M-806.59,0 l900,900 M-805.19,900 l900,-900 M-802.75,0 l900,900 M-801.34,900 l900,-900 M-798.90,0 l900,900 M-797.49,900 l900,-900 M-795.05,0 l900,900 M-793.64,900 l900,-900 M-791.20,0 l900,900 M-789.79,900 l900,-900 M-787.35,0 l900,900 M-785.95,900 l900,-900 M-783.51,0 l900,900 M-782.10,900 l900,-900 M-779.66,0 l900,900 M-778.25,900 l900,-900 M-775.81,0 l900,900 M-774.40,900 l900,-900 M-771.96,0 l900,900 M-770.55,900 l900,-900 M-768.11,0 l900,900 M-766.71,900 l900,-900 M-764.27,0 l900,900 M-762.86,900 l900,-900 M-760.42,0 l900,900 M-759.01,900 l900,-900 M-756.57,0 l900,900 M-755.16,900 l900,-900 M-752.72,0 l900,900 M-751.31,900 l900,-900 M-748.87,0 l900,900 M-747.47,900 l900,-900 M-745.03,0 l900,900 M-743.62,900 l900,-900 M-741.18,0 l900,900 M-739.77,900 l900,-900 M-737.33,0 l900,900 M-735.92,900 l900,-900 M-733.48,0 l900,900 M-732.07,900 l900,-900 M-729.63,0 l900,900 M-728.23,900 l900,-900 M-725.79,0 l900,900 M-724.38,900 l900,-900 M-721.94,0 l900,900 M-720.53,900 l900,-900 M-718.09,0 l900,900 M-716.68,900 l900,-900 M-714.24,0 l900,900 M-712.83,900 l900,-900 M-710.39,0 l900,900 M-708.99,900 l900,-900 M-706.55,0 l900,900 M-705.14,900 l900,-900 M-702.70,0 l900,900 M-701.29,900 l900,-900 M-698.85,0 l900,900 M-697.44,900 l900,-900 M-695.00,0 l900,900 M-693.59,900 l900,-900 M-691.15,0 l900,900 M-689.75,900 l900,-900 M-687.31,0 l900,900 M-685.90,900 l900,-900 M-683.46,0 l900,900 M-682.05,900 l900,-900 M-679.61,0 l900,900 M-678.20,900 l900,-900 M-675.76,0 l900,900 M-674.35,900 l900,-900 M-671.91,0 l900,900 M-670.51,900 l900,-900 M-668.07,0 l900,900 M-666.66,900 l900,-900 M-664.22,0 l900,900 M-662.81,900 l900,-900 M-660.37,0 l900,900 M-658.96,900 l900,-900 M-656.52,0 l900,900 M-655.11,900 l900,-900 M-652.67,0 l900,900 M-651.27,900 l900,-900 M-648.83,0 l900,900 M-647.42,900 l900,-900 M-644.98,0 l900,900 M-643.57,900 l900,-900 M-641.13,0 l900,900 M-639.72,900 l900,-900 M-637.28,0 l900,900 M-635.87,900 l900,-900 M-633.43,0 l900,900 M-632.03,900 l900,-900 M-629.59,0 l900,900 M-628.18,900 l900,-900 M-625.74,0 l900,900 M-624.33,900 l900,-900 M-621.89,0 l900,900 M-620.48,900 l900,-900 M-618.04,0 l900,900 M-616.63,900 l900,-900 M-614.19,0 l900,900 M-612.79,900 l900,-900 M-610.35,0 l900,900 M-608.94,900 l900,-900 M-606.50,0 l900,900 M-605.09,900 l900,-900 M-602.65,0 l900,900 M-601.24,900 l900,-900 M-598.80,0 l900,900 M-597.39,900 l900,-900 M-594.95,0 l900,900 M-593.55,900 l900,-900 M-591.11,0 l900,900 M-589.70,900 l900,-900 M-587.26,0 l900,900 M-585.85,900 l900,-900 M-583.41,0 l900,900 M-582.00,900 l900,-900 M-579.56,0 l900,900 M-578.15,900 l900,-900 M-575.71,0 l900,900 M-574.31,900 l900,-900 M-571.87,0 l900,900 M-570.46,900 l900,-900 M-568.02,0 l900,900 M-566.61,900 l900,-900 M-564.17,0 l900,900 M-562.76,900 l900,-900 M-560.32,0 l900,900 M-558.91,900 l900,-900 M-556.47,0 l900,900 M-555.07,900 l900,-900 M-552.63,0 l900,900 M-551.22,900 l900,-900 M-548.78,0 l900,900 M-547.37,900 l900,-900 M-544.93,0 l900,900 M-543.52,900 l900,-900 M-541.08,0 l900,900 M-539.67,900 l900,-900 M-537.23,0 l900,900 M-535.83,900 l900,-900 M-533.39,0 l900,900 M-531.98,900 l900,-900 M-529.54,0 l900,900 M-528.13,900 l900,-900 M-525.69,0 l900,900 M-524.28,900 l900,-900 M-521.84,0 l900,900 M-520.43,900 l900,-900 M-517.99,0 l900,900 M-516.59,900 l900,-900 M-514.15,0 l900,900 M-512.74,900 l900,-900 M-510.30,0 l900,900 M-508.89,900 l900,-900 M-506.45,0 l900,900 M-505.04,900 l900,-900 M-502.60,0 l900,900 M-501.19,900 l900,-900 M-498.75,0 l900,900 M-497.35,900 l900,-900 M-494.91,0 l900,900 M-493.50,900 l900,-900 M-491.06,0 l900,900 M-489.65,900 l900,-900 M-487.21,0 l900,900 M-485.80,900 l900,-900 M-483.36,0 l900,900 M-481.95,900 l900,-900 M-479.51,0 l900,900 M-478.11,900 l900,-900 M-475.67,0 l900,900 M-474.26,900 l900,-900 M-471.82,0 l900,900 M-470.41,900 l900,-900 M-467.97,0 l900,900 M-466.56,900 l900,-900 M-464.12,0 l900,900 M-462.71,900 l900,-900 M-460.27,0 l900,900 M-458.87,900 l900,-900 M-456.43,0 l900,900 M-455.02,900 l900,-900 M-452.58,0 l900,900 M-451.17,900 l900,-900 M-448.73,0 l900,900 M-447.32,900 l900,-900 M-444.88,0 l900,900 M-443.47,900 l900,-900 M-441.03,0 l900,900 M-439.63,900 l900,-900 M-437.19,0 l900,900 M-435.78,900 l900,-900 M-433.34,0 l900,900 M-431.93,900 l900,-900 M-429.49,0 l900,900 M-428.08,900 l900,-900 M-425.64,0 l900,900 M-424.23,900 l900,-900 M-421.79,0 l900,900 M-420.39,900 l900,-900 M-417.95,0 l900,900 M-416.54,900 l900,-900 M-414.10,0 l900,900 M-412.69,900 l900,-900 M-410.25,0 l900,900 M-408.84,900 l900,-900 M-406.40,0 l900,900 M-404.99,900 l900,-900 M-402.55,0 l900,900 M-401.15,900 l900,-900 M-398.71,0 l900,900 M-397.30,900 l900,-900 M-394.86,0 l900,900 M-393.45,900 l900,-900 M-391.01,0 l900,900 M-389.60,900 l900,-900 M-387.16,0 l900,900 M-385.75,900 l900,-900 M-383.31,0 l900,900 M-381.91,900 l900,-900 M-379.47,0 l900,900 M-378.06,900 l900,-900 M-375.62,0 l900,900 M-374.21,900 l900,-900 M-371.77,0 l900,900 M-370.36,900 l900,-900 M-367.92,0 l900,900 M-366.51,900 l900,-900 M-364.07,0 l900,900 M-362.67,900 l900,-900 M-360.23,0 l900,900 M-358.82,900 l900,-900 M-356.38,0 l900,900 M-354.97,900 l900,-900 M-352.53,0 l900,900 M-351.12,900 l900,-900 M-348.68,0 l900,900 M-347.27,900 l900,-900 M-344.83,0 l900,900 M-343.43,900 l900,-900 M-340.99,0 l900,900 M-339.58,900 l900,-900 M-337.14,0 l900,900 M-335.73,900 l900,-900 M-333.29,0 l900,900 M-331.88,900 l900,-900 M-329.44,0 l900,900 M-328.03,900 l900,-900 M-325.59,0 l900,900 M-324.19,900 l900,-900 M-321.75,0 l900,900 M-320.34,900 l900,-900 M-317.90,0 l900,900 M-316.49,900 l900,-900 M-314.05,0 l900,900 M-312.64,900 l900,-900 M-310.20,0 l900,900 M-308.79,900 l900,-900 M-306.35,0 l900,900 M-304.95,900 l900,-900 M-302.51,0 l900,900 M-301.10,900 l900,-900 M-298.66,0 l900,900 M-297.25,900 l900,-900 M-294.81,0 l900,900 M-293.40,900 l900,-900 M-290.96,0 l900,900 M-289.55,900 l900,-900 M-287.11,0 l900,900 M-285.71,900 l900,-900 M-283.27,0 l900,900 M-281.86,900 l900,-900 M-279.42,0 l900,900 M-278.01,900 l900,-900 M-275.57,0 l900,900 M-274.16,900 l900,-900 M-271.72,0 l900,900 M-270.31,900 l900,-900 M-267.87,0 l900,900 M-266.47,900 l900,-900 M-264.03,0 l900,900 M-262.62,900 l900,-900 M-260.18,0 l900,900 M-258.77,900 l900,-900 M-256.33,0 l900,900 M-254.92,900 l900,-900 M-252.48,0 l900,900 M-251.07,900 l900,-900 M-248.63,0 l900,900 M-247.23,900 l900,-900 M-244.79,0 l900,900 M-243.38,900 l900,-900 M-240.94,0 l900,900 M-239.53,900 l900,-900 M-237.09,0 l900,900 M-235.68,900 l900,-900 M-233.24,0 l900,900 M-231.83,900 l900,-900 M-229.39,0 l900,900 M-227.99,900 l900,-900 M-225.55,0 l900,900 M-224.14,900 l900,-900 M-221.70,0 l900,900 M-220.29,900 l900,-900 M-217.85,0 l900,900 M-216.44,900 l900,-900 M-214.00,0 l900,900 M-212.59,900 l900,-900 M-210.15,0 l900,900 M-208.75,900 l900,-900 M-206.31,0 l900,900 M-204.90,900 l900,-900 M-202.46,0 l900,900 M-201.05,900 l900,-900 M-198.61,0 l900,900 M-197.20,900 l900,-900 M-194.76,0 l900,900 M-193.35,900 l900,-900 M-190.91,0 l900,900 M-189.51,900 l900,-900 M-187.07,0 l900,900 M-185.66,900 l900,-900 M-183.22,0 l900,900 M-181.81,900 l900,-900 M-179.37,0 l900,900 M-177.96,900 l900,-900 M-175.52,0 l900,900 M-174.11,900 l900,-900 M-171.67,0 l900,900 M-170.27,900 l900,-900 M-167.83,0 l900,900 M-166.42,900 l900,-900 M-163.98,0 l900,900 M-162.57,900 l900,-900 M-160.13,0 l900,900 M-158.72,900 l900,-900 M-156.28,0 l900,900 M-154.87,900 l900,-900 M-152.43,0 l900,900 M-151.03,900 l900,-900 M-148.59,0 l900,900 M-147.18,900 l900,-900 M-144.74,0 l900,900 M-143.33,900 l900,-900 M-140.89,0 l900,900 M-139.48,900 l900,-900 M-137.04,0 l900,900 M-135.63,900 l900,-900 M-133.19,0 l900,900 M-131.79,900 l900,-900 M-129.35,0 l900,900 M-127.94,900 l900,-900 M-125.50,0 l900,900 M-124.09,900 l900,-900 M-121.65,0 l900,900 M-120.24,900 l900,-900 M-117.80,0 l900,900 M-116.39,900 l900,-900 M-113.95,0 l900,900 M-112.55,900 l900,-900 M-110.11,0 l900,900 M-108.70,900 l900,-900 M-106.26,0 l900,900 M-104.85,900 l900,-900 M-102.41,0 l900,900 M-101.00,900 l900,-900 M-98.56,0 l900,900 M-97.15,900 l900,-900 M-94.71,0 l900,900 M-93.31,900 l900,-900 M-90.87,0 l900,900 M-89.46,900 l900,-900 M-87.02,0 l900,900 M-85.61,900 l900,-900 M-83.17,0 l900,900 M-81.76,900 l900,-900 M-79.32,0 l900,900 M-77.91,900 l900,-900 M-75.47,0 l900,900 M-74.07,900 l900,-900 M-71.63,0 l900,900 M-70.22,900 l900,-900 M-67.78,0 l900,900 M-66.37,900 l900,-900 M-63.93,0 l900,900 M-62.52,900 l900,-900 M-60.08,0 l900,900 M-58.67,900 l900,-900 M-56.23,0 l900,900 M-54.83,900 l900,-900 M-52.39,0 l900,900 M-50.98,900 l900,-900 M-48.54,0 l900,900 M-47.13,900 l900,-900 M-44.69,0 l900,900 M-43.28,900 l900,-900 M-40.84,0 l900,900 M-39.43,900 l900,-900 M-36.99,0 l900,900 M-35.59,900 l900,-900 M-33.15,0 l900,900 M-31.74,900 l900,-900 M-29.30,0 l900,900 M-27.89,900 l900,-900 M-25.45,0 l900,900 M-24.04,900 l900,-900 M-21.60,0 l900,900 M-20.19,900 l900,-900 M-17.75,0 l900,900 M-16.35,900 l900,-900 M-13.91,0 l900,900 M-12.50,900 l900,-900 M-10.06,0 l900,900 M-8.65,900 l900,-900 M-6.21,0 l900,900 M-4.80,900 l900,-900 M-2.36,0 l900,900 M-0.95,900 l900,-900 M1.49,0 l900,900 M2.89,900 l900,-900 M5.33,0 l900,900 M6.74,900 l900,-900 M9.18,0 l900,900 M10.59,900 l900,-900 M13.03,0 l900,900 M14.44,900 l900,-900 M16.88,0 l900,900 M18.29,900 l900,-900 M20.73,0 l900,900 M22.13,900 l900,-900 M24.57,0 l900,900 M25.98,900 l900,-900 M28.42,0 l900,900 M29.83,900 l900,-900 M32.27,0 l900,900 M33.68,900 l900,-900 M36.12,0 l900,900 M37.53,900 l900,-900 M39.97,0 l900,900 M41.37,900 l900,-900 M43.81,0 l900,900 M45.22,900 l900,-900 M47.66,0 l900,900 M49.07,900 l900,-900 M51.51,0 l900,900 M52.92,900 l900,-900 M55.36,0 l900,900 M56.77,900 l900,-900 M59.21,0 l900,900 M60.61,900 l900,-900 M63.05,0 l900,900 M64.46,900 l900,-900 M66.90,0 l900,900 M68.31,900 l900,-900 M70.75,0 l900,900 M72.16,900 l900,-900 M74.60,0 l900,900 M76.01,900 l900,-900 M78.45,0 l900,900 M79.85,900 l900,-900 M82.29,0 l900,900 M83.70,900 l900,-900 M86.14,0 l900,900 M87.55,900 l900,-900 M89.99,0 l900,900 M91.40,900 l900,-900 M93.84,0 l900,900 M95.25,900 l900,-900 M97.69,0 l900,900 M99.09,900 l900,-900 M101.53,0 l900,900 M102.94,900 l900,-900 M105.38,0 l900,900 M106.79,900 l900,-900 M109.23,0 l900,900 M110.64,900 l900,-900 M113.08,0 l900,900 M114.49,900 l900,-900 M116.93,0 l900,900 M118.33,900 l900,-900 M120.77,0 l900,900 M122.18,900 l900,-900 M124.62,0 l900,900 M126.03,900 l900,-900 M128.47,0 l900,900 M129.88,900 l900,-900 M132.32,0 l900,900 M133.73,900 l900,-900 M136.17,0 l900,900 M137.57,900 l900,-900 M140.01,0 l900,900 M141.42,900 l900,-900 M143.86,0 l900,900 M145.27,900 l900,-900 M147.71,0 l900,900 M149.12,900 l900,-900 M151.56,0 l900,900 M152.97,900 l900,-900 M155.41,0 l900,900 M156.81,900 l900,-900 M159.25,0 l900,900 M160.66,900 l900,-900 M163.10,0 l900,900 M164.51,900 l900,-900 M166.95,0 l900,900 M168.36,900 l900,-900 M170.80,0 l900,900 M172.21,900 l900,-900 M174.65,0 l900,900 M176.05,900 l900,-900 M178.49,0 l900,900 M179.90,900 l900,-900 M182.34,0 l900,900 M183.75,900 l900,-900 M186.19,0 l900,900 M187.60,900 l900,-900 M190.04,0 l900,900 M191.45,900 l900,-900 M193.89,0 l900,900 M195.29,900 l900,-900 M197.73,0 l900,900 M199.14,900 l900,-900 M201.58,0 l900,900 M202.99,900 l900,-900 M205.43,0 l900,900 M206.84,900 l900,-900 M209.28,0 l900,900 M210.69,900 l900,-900 M213.13,0 l900,900 M214.53,900 l900,-900 M216.97,0 l900,900 M218.38,900 l900,-900 M220.82,0 l900,900 M222.23,900 l900,-900 M224.67,0 l900,900 M226.08,900 l900,-900 M228.52,0 l900,900 M229.93,900 l900,-900 M232.37,0 l900,900 M233.77,900 l900,-900 M236.21,0 l900,900 M237.62,900 l900,-900 M240.06,0 l900,900 M241.47,900 l900,-900 M243.91,0 l900,900 M245.32,900 l900,-900 M247.76,0 l900,900 M249.17,900 l900,-900 M251.61,0 l900,900 M253.01,900 l900,-900 M255.45,0 l900,900 M256.86,900 l900,-900 M259.30,0 l900,900 M260.71,900 l900,-900 M263.15,0 l900,900 M264.56,900 l900,-900 M267.00,0 l900,900 M268.41,900 l900,-900 M270.85,0 l900,900 M272.25,900 l900,-900 M274.69,0 l900,900 M276.10,900 l900,-900 M278.54,0 l900,900 M279.95,900 l900,-900 M282.39,0 l900,900 M283.80,900 l900,-900 M286.24,0 l900,900 M287.65,900 l900,-900 M290.09,0 l900,900 M291.49,900 l900,-900 M293.93,0 l900,900 M295.34,900 l900,-900 M297.78,0 l900,900 M299.19,900 l900,-900 M301.63,0 l900,900 M303.04,900 l900,-900 M305.48,0 l900,900 M306.89,900 l900,-900 M309.33,0 l900,900 M310.73,900 l900,-900 M313.17,0 l900,900 M314.58,900 l900,-900 M317.02,0 l900,900 M318.43,900 l900,-900 M320.87,0 l900,900 M322.28,900 l900,-900 M324.72,0 l900,900 M326.13,900 l900,-900 M328.57,0 l900,900 M329.97,900 l900,-900 M332.41,0 l900,900 M333.82,900 l900,-900 M336.26,0 l900,900 M337.67,900 l900,-900 M340.11,0 l900,900 M341.52,900 l900,-900 M343.96,0 l900,900 M345.37,900 l900,-900 M347.81,0 l900,900 M349.21,900 l900,-900 M351.65,0 l900,900 M353.06,900 l900,-900 M355.50,0 l900,900 M356.91,900 l900,-900 M359.35,0 l900,900 M360.76,900 l900,-900 M363.20,0 l900,900 M364.61,900 l900,-900 M367.05,0 l900,900 M368.45,900 l900,-900 M370.89,0 l900,900 M372.30,900 l900,-900 M374.74,0 l900,900 M376.15,900 l900,-900 M378.59,0 l900,900 M380.00,900 l900,-900 M382.44,0 l900,900 M383.85,900 l900,-900 M386.29,0 l900,900 M387.69,900 l900,-900 M390.13,0 l900,900 M391.54,900 l900,-900 M393.98,0 l900,900 M395.39,900 l900,-900 M397.83,0 l900,900 M399.24,900 l900,-900 M401.68,0 l900,900 M403.09,900 l900,-900 M405.53,0 l900,900 M406.93,900 l900,-900 M409.37,0 l900,900 M410.78,900 l900,-900 M413.22,0 l900,900 M414.63,900 l900,-900 M417.07,0 l900,900 M418.48,900 l900,-900 M420.92,0 l900,900 M422.33,900 l900,-900 M424.77,0 l900,900 M426.17,900 l900,-900 M428.61,0 l900,900 M430.02,900 l900,-900 M432.46,0 l900,900 M433.87,900 l900,-900 M436.31,0 l900,900 M437.72,900 l900,-900 M440.16,0 l900,900 M441.57,900 l900,-900 M444.01,0 l900,900 M445.41,900 l900,-900 M447.85,0 l900,900 M449.26,900 l900,-900 M451.70,0 l900,900 M453.11,900 l900,-900 M455.55,0 l900,900 M456.96,900 l900,-900 M459.40,0 l900,900 M460.81,900 l900,-900 M463.25,0 l900,900 M464.65,900 l900,-900 M467.09,0 l900,900 M468.50,900 l900,-900 M470.94,0 l900,900 M472.35,900 l900,-900 M474.79,0 l900,900 M476.20,900 l900,-900 M478.64,0 l900,900 M480.05,900 l900,-900 M482.49,0 l900,900 M483.89,900 l900,-900 M486.33,0 l900,900 M487.74,900 l900,-900 M490.18,0 l900,900 M491.59,900 l900,-900 M494.03,0 l900,900 M495.44,900 l900,-900 M497.88,0 l900,900 M499.29,900 l900,-900 M501.73,0 l900,900 M503.13,900 l900,-900 M505.57,0 l900,900 M506.98,900 l900,-900 M509.42,0 l900,900 M510.83,900 l900,-900 M513.27,0 l900,900 M514.68,900 l900,-900 M517.12,0 l900,900 M518.53,900 l900,-900 M520.97,0 l900,900 M522.37,900 l900,-900 M524.81,0 l900,900 M526.22,900 l900,-900 M528.66,0 l900,900 M530.07,900 l900,-900 M532.51,0 l900,900 M533.92,900 l900,-900 M536.36,0 l900,900 M537.77,900 l900,-900 M540.21,0 l900,900 M541.61,900 l900,-900 M544.05,0 l900,900 M545.46,900 l900,-900 M547.90,0 l900,900 M549.31,900 l900,-900 M551.75,0 l900,900 M553.16,900 l900,-900 M555.60,0 l900,900 M557.01,900 l900,-900 M559.45,0 l900,900 M560.85,900 l900,-900 M563.29,0 l900,900 M564.70,900 l900,-900 M567.14,0 l900,900 M568.55,900 l900,-900 M570.99,0 l900,900 M572.40,900 l900,-900 M574.84,0 l900,900 M576.25,900 l900,-900 M578.69,0 l900,900 M580.09,900 l900,-900 M582.53,0 l900,900 M583.94,900 l900,-900 M586.38,0 l900,900 M587.79,900 l900,-900 M590.23,0 l900,900 M591.64,900 l900,-900 M594.08,0 l900,900 M595.49,900 l900,-900 M597.93,0 l900,900 M599.33,900 l900,-900 M601.77,0 l900,900 M603.18,900 l900,-900 M605.62,0 l900,900 M607.03,900 l900,-900 M609.47,0 l900,900 M610.88,900 l900,-900 M613.32,0 l900,900 M614.73,900 l900,-900 M617.17,0 l900,900 M618.57,900 l900,-900 M621.01,0 l900,900 M622.42,900 l900,-900 M624.86,0 l900,900 M626.27,900 l900,-900 M628.71,0 l900,900 M630.12,900 l900,-900 M632.56,0 l900,900 M633.97,900 l900,-900 M636.41,0 l900,900 M637.81,900 l900,-900 M640.25,0 l900,900 M641.66,900 l900,-900 M644.10,0 l900,900 M645.51,900 l900,-900 M647.95,0 l900,900 M649.36,900 l900,-900 M651.80,0 l900,900 M653.21,900 l900,-900 M655.65,0 l900,900 M657.05,900 l900,-900 M659.49,0 l900,900 M660.90,900 l900,-900 M663.34,0 l900,900 M664.75,900 l900,-900 M667.19,0 l900,900 M668.60,900 l900,-900 M671.04,0 l900,900 M672.45,900 l900,-900 M674.89,0 l900,900 M676.29,900 l900,-900 M678.73,0 l900,900 M680.14,900 l900,-900 M682.58,0 l900,900 M683.99,900 l900,-900 M686.43,0 l900,900 M687.84,900 l900,-900 M690.28,0 l900,900 M691.69,900 l900,-900 M694.13,0 l900,900 M695.53,900 l900,-900 M697.97,0 l900,900 M699.38,900 l900,-900 M701.82,0 l900,900 M703.23,900 l900,-900 M705.67,0 l900,900 M707.08,900 l900,-900 M709.52,0 l900,900 M710.93,900 l900,-900 M713.37,0 l900,900 M714.77,900 l900,-900 M717.21,0 l900,900 M718.62,900 l900,-900 M721.06,0 l900,900 M722.47,900 l900,-900 M724.91,0 l900,900 M726.32,900 l900,-900 M728.76,0 l900,900 M730.17,900 l900,-900 M732.61,0 l900,900 M734.01,900 l900,-900 M736.45,0 l900,900 M737.86,900 l900,-900 M740.30,0 l900,900 M741.71,900 l900,-900 M744.15,0 l900,900 M745.56,900 l900,-900 M748.00,0 l900,900 M749.41,900 l900,-900 M751.85,0 l900,900 M753.25,900 l900,-900 M755.69,0 l900,900 M757.10,900 l900,-900 M759.54,0 l900,900 M760.95,900 l900,-900 M763.39,0 l900,900 M764.80,900 l900,-900 M767.24,0 l900,900 M768.65,900 l900,-900 M771.09,0 l900,900 M772.49,900 l900,-900 M774.93,0 l900,900 M776.34,900 l900,-900 M778.78,0 l900,900 M780.19,900 l900,-900 M782.63,0 l900,900 M784.04,900 l900,-900 M786.48,0 l900,900 M787.89,900 l900,-900 M790.33,0 l900,900 M791.73,900 l900,-900 M794.17,0 l900,900 M795.58,900 l900,-900 M798.02,0 l900,900 M799.43,900 l900,-900 M801.87,0 l900,900 M803.28,900 l900,-900 M805.72,0 l900,900 M807.13,900 l900,-900 M809.57,0 l900,900 M810.97,900 l900,-900 M813.41,0 l900,900 M814.82,900 l900,-900 M817.26,0 l900,900 M818.67,900 l900,-900 M821.11,0 l900,900 M822.52,900 l900,-900 M824.96,0 l900,900 M826.37,900 l900,-900 M828.81,0 l900,900 M830.21,900 l900,-900 M832.65,0 l900,900 M834.06,900 l900,-900 M836.50,0 l900,900 M837.91,900 l900,-900 M840.35,0 l900,900 M841.76,900 l900,-900 M844.20,0 l900,900 M845.61,900 l900,-900 M848.05,0 l900,900 M849.45,900 l900,-900 M851.89,0 l900,900 M853.30,900 l900,-900 M855.74,0 l900,900 M857.15,900 l900,-900 M859.59,0 l900,900 M861.00,900 l900,-900 M863.44,0 l900,900 M864.85,900 l900,-900 M867.29,0 l900,900 M868.69,900 l900,-900 M871.13,0 l900,900 M872.54,900 l900,-900 M874.98,0 l900,900 M876.39,900 l900,-900 M878.83,0 l900,900 M880.24,900 l900,-900 M882.68,0 l900,900 M884.09,900 l900,-900 M886.53,0 l900,900 M887.93,900 l900,-900 M890.37,0 l900,900 M891.78,900 l900,-900 M894.22,0 l900,900 M895.63,900 l900,-900 M898.07,0 l900,900 M899.48,900 l900,-900 M901.92,0 l900,900 M903.33,900 l900,-900 M905.77,0 l900,900 M907.17,900 l900,-900 M909.61,0 l900,900 M911.02,900 l900,-900 M913.46,0 l900,900 M914.87,900 l900,-900 M917.31,0 l900,900 M918.72,900 l900,-900 M921.16,0 l900,900 M922.57,900 l900,-900 M925.01,0 l900,900 M926.41,900 l900,-900 M928.85,0 l900,900 M930.26,900 l900,-900 M932.70,0 l900,900 M934.11,900 l900,-900 M936.55,0 l900,900 M937.96,900 l900,-900 M940.40,0 l900,900 M941.81,900 l900,-900 M944.25,0 l900,900 M945.65,900 l900,-900 M948.09,0 l900,900 M949.50,900 l900,-900 M951.94,0 l900,900 M953.35,900 l900,-900 M955.79,0 l900,900 M957.20,900 l900,-900 M959.64,0 l900,900 M961.05,900 l900,-900 M963.49,0 l900,900 M964.89,900 l900,-900 M967.33,0 l900,900 M968.74,900 l900,-900 M971.18,0 l900,900 M972.59,900 l900,-900 M975.03,0 l900,900 M976.44,900 l900,-900 M978.88,0 l900,900 M980.29,900 l900,-900 M982.73,0 l900,900 M984.13,900 l900,-900 M986.57,0 l900,900 M987.98,900 l900,-900 M990.42,0 l900,900 M991.83,900 l900,-900 M994.27,0 l900,900 M995.68,900 l900,-900 M998.12,0 l900,900 M999.53,900 l900,-900 M1001.97,0 l900,900 M1003.37,900 l900,-900 M1005.81,0 l900,900 M1007.22,900 l900,-900 M1009.66,0 l900,900 M1011.07,900 l900,-900 M1013.51,0 l900,900 M1014.92,900 l900,-900 M1017.36,0 l900,900 M1018.77,900 l900,-900 M1021.21,0 l900,900 M1022.61,900 l900,-900 M1025.05,0 l900,900 M1026.46,900 l900,-900 M1028.90,0 l900,900 M1030.31,900 l900,-900 M1032.75,0 l900,900 M1034.16,900 l900,-900 M1036.60,0 l900,900 M1038.01,900 l900,-900 M1040.45,0 l900,900 M1041.85,900 l900,-900 M1044.29,0 l900,900 M1045.70,900 l900,-900 M1048.14,0 l900,900 M1049.55,900 l900,-900 M1051.99,0 l900,900 M1053.40,900 l900,-900 M1055.84,0 l900,900 M1057.25,900 l900,-900 M1059.69,0 l900,900 M1061.09,900 l900,-900 M1063.53,0 l900,900 M1064.94,900 l900,-900 M1067.38,0 l900,900 M1068.79,900 l900,-900 M1071.23,0 l900,900 M1072.64,900 l900,-900 M1075.08,0 l900,900 M1076.49,900 l900,-900 M1078.93,0 l900,900 M1080.33,900 l900,-900 M1082.77,0 l900,900 M1084.18,900 l900,-900 M1086.62,0 l900,900 M1088.03,900 l900,-900 M1090.47,0 l900,900 M1091.88,900 l900,-900 M1094.32,0 l900,900 M1095.73,900 l900,-900 M1098.17,0 l900,900 M1099.57,900 l900,-900 M1102.01,0 l900,900 M1103.42,900 l900,-900 M1105.86,0 l900,900 M1107.27,900 l900,-900 M1109.71,0 l900,900 M1111.12,900 l900,-900 M1113.56,0 l900,900 M1114.97,900 l900,-900 M1117.41,0 l900,900 M1118.81,900 l900,-900 M1121.25,0 l900,900 M1122.66,900 l900,-900 M1125.10,0 l900,900 M1126.51,900 l900,-900 M1128.95,0 l900,900 M1130.36,900 l900,-900 M1132.80,0 l900,900 M1134.21,900 l900,-900 M1136.65,0 l900,900 M1138.05,900 l900,-900 M1140.49,0 l900,900 M1141.90,900 l900,-900 M1144.34,0 l900,900 M1145.75,900 l900,-900 M1148.19,0 l900,900 M1149.60,900 l900,-900 M1152.04,0 l900,900 M1153.45,900 l900,-900 M1155.89,0 l900,900 M1157.29,900 l900,-900 M1159.73,0 l900,900 M1161.14,900 l900,-900 M1163.58,0 l900,900 M1164.99,900 l900,-900 M1167.43,0 l900,900 M1168.84,900 l900,-900 M1171.28,0 l900,900 M1172.69,900 l900,-900 M1175.13,0 l900,900 M1176.53,900 l900,-900 M1178.97,0 l900,900 M1180.38,900 l900,-900 M1182.82,0 l900,900 M1184.23,900 l900,-900 M1186.67,0 l900,900 M1188.08,900 l900,-900 M1190.52,0 l900,900 M1191.93,900 l900,-900 M1194.37,0 l900,900 M1195.77,900 l900,-900 M1198.21,0 l900,900 M1199.62,900 l900,-900" fill="none" stroke="#3a3a3a" stroke-width="0.58" clip-path="url(#wc)"/>
<path d="M93.12,214.87 L122.08,214.87 L122.08,220.88 L99.08,220.88 L99.08,233.38 L93.12,233.38 Z M250.22,214.87 L334.38,214.87 L334.38,220.88 L250.22,220.88 Z M377.82,214.87 L461.98,214.87 L461.98,220.88 L377.82,220.88 Z M589.62,214.87 L621.38,214.87 L621.38,220.88 L589.62,220.88 Z M664.62,214.87 L727.38,214.87 L727.38,220.88 L664.62,220.88 Z M770.12,214.87 L801.38,214.87 L801.38,220.88 L770.12,220.88 Z M929.62,214.87 L971.38,214.87 L971.38,220.88 L929.62,220.88 Z M1014.62,214.87 L1045.38,214.87 L1045.38,220.88 L1014.62,220.88 Z M1088.62,214.87 L1124.18,214.87 L1124.18,651.78 L1097.62,651.78 L1097.62,645.92 L1118.32,645.92 L1118.32,220.88 L1088.62,220.88 Z M93.12,276.82 L99.08,276.82 L99.08,301.28 L93.12,301.28 Z M93.12,353.02 L99.08,353.02 L99.08,645.92 L141.08,645.92 L141.08,651.78 L93.12,651.78 Z M396.82,645.92 L459.88,645.92 L459.88,651.78 L396.82,651.78 Z M587.62,645.92 L619.38,645.92 L619.38,651.78 L587.62,651.78 Z M661.62,645.92 L724.88,645.92 L724.88,651.78 L661.62,651.78 Z M768.12,645.92 L834.38,645.92 L834.38,651.78 L768.12,651.78 Z M891.62,645.92 L968.98,645.92 L968.98,651.78 L891.62,651.78 Z" fill="none" stroke="#1c1c1c" stroke-width="1.0" stroke-linejoin="miter"/>
</g>
</svg>
</body>
</html>
